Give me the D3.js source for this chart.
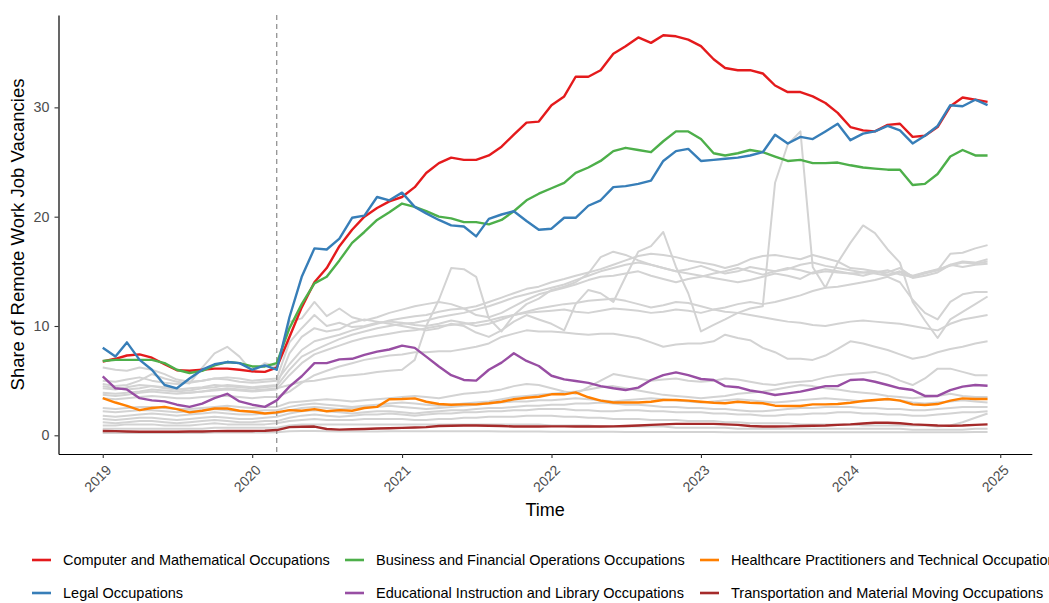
<!DOCTYPE html>
<html>
<head>
<meta charset="utf-8">
<script src="https://cdn.jsdelivr.net/npm/d3@7"></script>
<style>
  html, body { margin: 0; padding: 0; background: #ffffff; }
  svg { display: block; font-family: "Liberation Sans", Arial, sans-serif; }
</style>
</head>
<body>
<svg id="chart" width="1049" height="603"></svg>
<script>
// ---- categories (months) ----
const months = [
  "2019-01","2019-02","2019-03","2019-04","2019-05","2019-06","2019-07","2019-08","2019-09","2019-10","2019-11","2019-12",
  "2020-01","2020-02","2020-03","2020-04","2020-05","2020-06","2020-07","2020-08","2020-09","2020-10","2020-11","2020-12",
  "2021-01","2021-02","2021-03","2021-04","2021-05","2021-06","2021-07","2021-08","2021-09","2021-10","2021-11","2021-12",
  "2022-01","2022-02","2022-03","2022-04","2022-05","2022-06","2022-07","2022-08","2022-09","2022-10","2022-11","2022-12",
  "2023-01","2023-02","2023-03","2023-04","2023-05","2023-06","2023-07","2023-08","2023-09","2023-10","2023-11","2023-12",
  "2024-01","2024-02","2024-03","2024-04","2024-05","2024-06","2024-07","2024-08","2024-09","2024-10","2024-11","2024-12"
];
const xTickLabels = ["2019","2020","2021","2022","2023","2024","2025"];
const yTickValues = [0, 10, 20, 30];
const covidMonth = "2020-03";

// ---- highlighted series ----
const computerMath = [
  6.75,7.0,7.3,7.4,7.1,6.5,5.95,5.9,6.0,6.1,6.1,6.0,
  5.85,5.8,6.2,9.0,11.7,14.0,15.3,17.3,18.8,20.0,20.8,21.4,
  21.8,22.7,24.0,24.9,25.4,25.2,25.2,25.6,26.4,27.5,28.6,28.7,
  30.2,31.0,32.8,32.8,33.4,34.9,35.6,36.4,35.9,36.6,36.5,36.2,
  35.6,34.4,33.6,33.4,33.4,33.1,32.0,31.4,31.4,31.0,30.4,29.5,
  28.2,27.9,27.8,28.4,28.5,27.3,27.4,28.2,30.1,30.9,30.7,30.5
];
const businessFinancial = [
  6.8,6.9,6.9,6.9,6.9,6.6,6.0,5.7,5.9,6.4,6.7,6.6,
  6.3,6.3,6.6,9.8,12.0,13.9,14.5,16.0,17.6,18.6,19.7,20.4,
  21.2,20.9,20.5,20.0,19.85,19.5,19.5,19.3,19.7,20.5,21.5,22.1,
  22.6,23.1,24.0,24.5,25.1,26.0,26.3,26.1,25.9,26.9,27.8,27.8,
  27.1,25.8,25.6,25.8,26.1,25.9,25.5,25.1,25.2,24.9,24.9,24.95,
  24.7,24.5,24.4,24.3,24.3,22.9,23.0,23.9,25.5,26.1,25.6,25.6
];
const healthcarePractitioners = [
  3.4,3.0,2.7,2.3,2.5,2.6,2.4,2.1,2.25,2.45,2.45,2.25,
  2.15,2.0,2.1,2.3,2.25,2.4,2.2,2.3,2.25,2.5,2.6,3.3,
  3.32,3.38,3.07,2.86,2.8,2.83,2.83,2.93,3.07,3.3,3.44,3.53,
  3.75,3.75,3.93,3.48,3.17,3.0,3.0,3.0,3.07,3.23,3.23,3.17,
  3.07,2.98,2.93,3.07,2.98,2.93,2.71,2.68,2.68,2.83,2.83,2.86,
  2.98,3.14,3.23,3.32,3.17,2.83,2.77,2.86,3.17,3.38,3.32,3.32
];
const legal = [
  8.0,7.2,8.5,6.9,6.0,4.6,4.3,5.2,6.0,6.5,6.7,6.6,
  6.0,6.4,6.0,10.8,14.5,17.1,17.0,18.0,19.9,20.1,21.8,21.5,
  22.2,20.9,20.3,19.7,19.2,19.1,18.2,19.8,20.2,20.5,19.6,18.8,
  18.9,19.9,19.9,21.0,21.5,22.7,22.8,23.0,23.3,25.1,26.0,26.2,
  25.1,25.2,25.3,25.4,25.6,25.9,27.5,26.7,27.3,27.1,27.8,28.5,
  27.0,27.6,27.8,28.3,27.9,26.7,27.4,28.3,30.2,30.1,30.7,30.2
];
const educationLibrary = [
  5.4,4.3,4.2,3.4,3.2,3.1,2.8,2.6,2.9,3.4,3.8,3.1,
  2.8,2.6,3.2,4.45,5.4,6.6,6.6,6.95,7.0,7.35,7.65,7.85,
  8.2,8.0,7.2,6.3,5.5,5.06,5.0,6.0,6.65,7.5,6.8,6.34,
  5.45,5.12,4.97,4.8,4.5,4.3,4.14,4.36,5.06,5.5,5.76,5.5,
  5.15,5.06,4.5,4.4,4.1,3.93,3.69,3.84,4.0,4.24,4.5,4.5,
  5.06,5.12,4.9,4.6,4.3,4.14,3.6,3.6,4.14,4.45,4.6,4.54
];
const transportation = [
  0.4,0.38,0.35,0.33,0.33,0.33,0.33,0.35,0.35,0.38,0.4,0.4,
  0.4,0.42,0.48,0.75,0.78,0.8,0.58,0.52,0.55,0.58,0.62,0.65,
  0.68,0.72,0.75,0.85,0.88,0.9,0.9,0.88,0.85,0.8,0.8,0.8,
  0.82,0.82,0.8,0.8,0.8,0.82,0.85,0.9,0.95,1.0,1.05,1.05,
  1.05,1.05,1.0,0.95,0.85,0.8,0.8,0.82,0.85,0.88,0.9,0.95,
  1.0,1.08,1.15,1.15,1.1,1.0,0.95,0.9,0.88,0.9,0.95,1.0
];

// ---- other occupations (grey) ----
const artsMedia = [
  5.0,4.9,5.1,5.3,5.0,4.8,4.7,4.8,5.0,5.2,5.1,4.9,
  4.8,4.9,5.0,6.5,7.8,8.6,8.9,9.2,9.6,9.9,10.2,10.5,
  10.7,10.9,11.0,11.3,11.5,11.6,11.8,12.2,12.6,13.0,13.4,13.6,
  14.0,14.3,14.6,14.9,15.2,15.6,16.0,16.4,16.6,16.5,16.3,16.0,
  15.8,15.6,15.3,15.6,16.1,16.4,16.5,16.3,16.1,16.5,16.2,15.9,
  15.3,15.2,15.0,14.9,15.3,14.5,14.8,15.1,16.6,16.7,17.1,17.4
];
const management = [
  4.3,4.2,4.4,4.6,4.5,4.3,4.2,4.3,4.4,4.6,4.5,4.4,
  4.3,4.4,4.5,6.0,7.2,7.8,8.3,8.8,9.2,9.5,9.8,10.0,
  10.2,10.3,10.5,10.8,11.0,11.2,11.5,11.8,12.2,12.6,12.9,13.2,
  13.5,13.8,14.2,14.6,15.0,15.3,15.6,15.8,15.6,15.3,15.0,15.2,
  15.5,15.1,14.8,15.0,15.4,15.2,15.0,15.2,15.6,15.8,15.5,15.3,
  15.1,14.9,14.8,14.6,14.9,14.4,14.6,14.9,15.6,15.9,15.8,16.1
];
const architectureEngineering = [
  4.7,4.5,4.6,5.0,5.6,5.2,4.9,4.75,6.2,7.5,8.1,7.2,
  5.8,6.6,6.3,10.4,10.7,12.2,10.9,11.6,10.8,10.5,10.8,11.2,
  11.5,11.8,12.0,12.2,12.0,11.6,11.0,10.8,11.2,11.8,12.4,12.9,
  13.2,13.5,13.8,14.2,14.5,14.6,14.8,15.0,14.6,14.3,14.0,14.3,
  14.5,14.8,15.0,15.3,15.0,14.7,15.0,15.3,15.1,14.8,15.0,14.9,
  14.8,14.6,14.9,15.1,14.7,14.5,14.9,15.2,15.5,15.8,15.7,15.9
];
const lifePhysicalSocial = [
  3.9,3.8,3.9,4.0,4.2,4.1,4.0,3.9,4.0,4.2,4.3,4.2,
  4.1,4.2,4.3,4.6,4.9,5.0,5.2,5.4,5.5,5.6,5.8,5.9,
  6.0,6.9,10.0,12.4,15.3,15.2,14.5,10.7,9.5,11.0,12.0,12.5,
  13.3,13.6,14.0,14.8,16.3,16.8,16.5,16.0,15.6,15.3,15.0,14.8,
  14.6,14.4,14.2,14.0,14.2,14.5,14.8,14.6,14.3,14.9,15.2,15.0,
  14.8,14.9,15.0,14.7,15.0,14.6,14.9,15.1,15.6,15.4,15.6,15.7
];
const communitySocial = [
  4.5,4.3,4.2,4.3,4.5,4.4,4.2,4.1,4.3,4.4,4.6,4.5,
  4.4,4.5,4.6,7.5,9.0,9.8,9.5,9.7,10.3,10.6,10.4,10.2,
  10.0,9.8,9.6,9.8,10.2,10.0,9.4,9.0,9.6,10.4,11.0,10.6,
  10.2,9.6,12.0,13.3,13.0,12.2,14.5,16.8,17.3,18.6,15.4,13.0,
  9.5,10.1,10.6,11.2,11.6,11.8,23.1,26.6,27.8,15.4,13.5,15.8,
  17.6,19.2,18.5,17.0,15.8,12.2,10.5,8.9,10.6,11.3,12.0,12.7
];
const officeAdmin = [
  6.2,6.0,5.9,6.2,6.0,5.6,5.1,4.9,5.0,5.2,5.3,5.2,
  5.0,5.1,5.2,8.5,9.8,11.0,10.0,10.3,9.9,10.0,10.3,10.4,
  10.3,10.1,10.0,10.2,10.5,10.3,10.0,10.2,10.6,11.0,11.3,11.6,
  11.8,12.0,12.1,12.3,12.4,12.5,12.3,12.0,11.7,11.9,12.2,12.1,
  11.8,11.5,11.7,12.0,12.2,12.0,12.2,12.5,12.8,13.2,13.5,13.6,
  13.8,14.0,14.2,14.5,14.0,12.4,11.2,10.6,12.2,12.9,13.1,13.1
];
const salesRelated = [
  3.7,3.6,3.7,3.9,4.0,3.9,3.8,3.9,4.0,4.1,4.2,4.1,
  4.0,4.1,4.2,5.5,6.6,7.4,7.8,8.2,8.6,8.9,9.1,9.3,
  9.5,9.6,9.8,10.0,10.1,10.2,10.3,10.5,10.8,11.0,11.2,11.3,
  11.4,11.5,11.3,11.2,11.4,11.6,11.5,11.4,11.2,11.3,11.5,11.4,
  11.2,11.5,11.3,11.2,11.0,10.8,10.6,10.4,10.3,10.1,10.0,10.2,
  10.4,10.5,10.4,10.3,10.2,10.0,9.8,9.6,10.2,10.6,10.8,11.0
];
const communityHealth = [
  3.4,3.3,3.4,3.5,3.6,3.5,3.4,3.4,3.5,3.6,3.6,3.5,
  3.4,3.5,3.5,4.0,4.8,5.5,5.9,6.3,6.6,6.9,7.1,7.3,
  7.4,7.6,7.6,7.7,7.7,7.9,8.1,8.4,9.0,9.3,9.6,9.5,
  9.5,9.4,9.3,9.2,9.3,9.3,9.1,8.9,8.5,8.1,8.3,8.4,
  8.4,8.6,9.2,8.9,8.7,8.0,7.6,7.0,7.0,6.9,7.3,7.9,
  8.6,8.4,8.1,7.8,7.4,7.0,7.2,7.6,7.9,8.1,8.4,8.6
];
const protectiveService = [
  2.5,2.4,2.5,2.6,2.6,2.5,2.4,2.4,2.5,2.6,2.7,2.6,
  2.5,2.6,2.6,3.0,3.1,3.2,3.3,3.2,3.1,3.2,3.3,3.4,
  3.5,3.6,3.5,3.4,3.6,3.8,3.9,4.0,4.2,4.5,4.7,4.6,
  4.3,4.0,3.8,4.4,5.0,5.6,5.4,5.2,5.0,5.1,5.2,5.0,
  4.9,5.0,5.2,5.1,4.9,4.7,4.6,4.8,4.9,5.0,5.3,5.5,
  5.6,5.7,5.8,5.5,5.0,4.6,5.2,6.1,6.1,5.8,5.5,5.5
];
const healthcareSupport = [
  2.2,2.1,2.2,2.3,2.3,2.2,2.1,2.2,2.3,2.4,2.3,2.2,
  2.2,2.3,2.3,2.6,2.8,2.9,2.8,2.7,2.6,2.7,2.8,2.9,
  3.0,2.9,2.8,2.7,2.8,2.9,3.0,3.1,3.3,3.5,3.6,3.7,
  3.8,3.9,4.0,4.2,4.4,4.5,4.3,4.1,3.9,3.7,3.6,3.5,
  3.4,3.5,3.6,3.8,3.9,4.0,4.2,4.4,4.6,4.5,4.3,4.2,
  4.0,3.9,3.8,3.6,3.5,3.4,3.5,3.6,3.8,3.6,3.5,3.5
];
const personalCare = [
  1.8,1.7,1.8,1.9,2.0,1.9,1.8,1.9,2.0,2.1,2.0,1.9,
  1.9,2.0,2.0,2.3,2.5,2.6,2.5,2.4,2.5,2.6,2.6,2.7,
  2.6,2.5,2.4,2.5,2.6,2.7,2.8,2.9,3.0,3.1,3.1,3.2,
  3.2,3.3,3.4,3.3,3.2,3.1,3.2,3.3,3.4,3.3,3.2,3.1,
  3.0,3.1,3.2,3.3,3.2,3.1,3.0,3.1,3.2,3.3,3.4,3.3,
  3.2,3.1,3.2,3.3,3.2,3.0,2.9,3.0,3.1,3.2,3.1,3.0
];
const installationRepair = [
  1.5,1.4,1.5,1.6,1.6,1.5,1.4,1.5,1.6,1.7,1.6,1.5,
  1.5,1.6,1.7,2.0,2.2,2.3,2.2,2.1,2.0,2.1,2.2,2.2,
  2.1,2.0,2.1,2.2,2.3,2.3,2.4,2.5,2.5,2.6,2.7,2.7,
  2.8,2.8,2.9,2.9,3.0,2.9,2.8,2.8,2.7,2.6,2.6,2.5,
  2.5,2.4,2.4,2.3,2.2,2.2,2.3,2.4,2.5,2.5,2.6,2.6,
  2.6,2.5,2.5,2.4,2.4,2.3,2.3,2.4,2.5,2.6,2.6,2.6
];
const production = [
  1.2,1.1,1.2,1.3,1.3,1.2,1.1,1.2,1.3,1.4,1.3,1.2,
  1.2,1.3,1.3,1.6,1.8,1.9,1.8,1.7,1.8,1.9,1.9,2.0,
  1.9,1.8,1.9,2.0,2.0,2.1,2.1,2.2,2.2,2.3,2.3,2.4,
  2.4,2.4,2.3,2.3,2.2,2.2,2.3,2.3,2.2,2.2,2.1,2.1,
  2.1,2.0,2.0,1.9,1.9,1.8,1.8,1.9,1.9,2.0,2.0,2.1,
  2.1,2.0,2.0,1.9,1.9,1.8,1.8,1.9,2.0,2.1,2.1,2.2
];
const constructionExtraction = [
  0.9,0.9,1.0,1.0,1.0,0.9,0.9,0.9,1.0,1.1,1.0,1.0,
  1.0,1.0,1.1,1.3,1.4,1.5,1.4,1.4,1.4,1.5,1.5,1.5,
  1.5,1.4,1.4,1.5,1.5,1.6,1.6,1.7,1.7,1.7,1.8,1.8,
  1.8,1.7,1.7,1.6,1.6,1.5,1.5,1.5,1.4,1.4,1.4,1.3,
  1.3,1.3,1.2,1.2,1.1,1.1,1.1,1.1,1.0,1.0,1.0,1.0,
  1.0,0.9,0.9,0.9,0.9,0.9,0.9,0.8,0.9,1.2,1.6,2.0
];
const buildingGrounds = [
  0.6,0.6,0.6,0.6,0.6,0.6,0.6,0.6,0.6,0.7,0.7,0.7,
  0.7,0.7,0.7,0.9,1.0,1.0,1.0,1.0,1.0,1.0,1.0,1.0,
  1.0,1.0,1.0,1.0,1.0,1.0,1.0,1.0,1.0,1.0,1.0,1.0,
  0.9,0.9,0.9,0.9,0.8,0.8,0.8,0.8,0.8,0.8,0.7,0.7,
  0.7,0.7,0.7,0.6,0.6,0.6,0.6,0.6,0.6,0.6,0.6,0.6,
  0.6,0.6,0.6,0.6,0.6,0.5,0.5,0.5,0.5,0.5,0.6,0.6
];
const foodPreparation = [
  0.2,0.2,0.22,0.22,0.22,0.2,0.2,0.2,0.22,0.25,0.25,0.25,
  0.25,0.25,0.28,0.38,0.4,0.4,0.36,0.35,0.35,0.35,0.35,0.36,
  0.36,0.36,0.37,0.38,0.38,0.38,0.37,0.36,0.35,0.35,0.34,0.34,
  0.33,0.33,0.33,0.32,0.32,0.32,0.31,0.31,0.3,0.3,0.3,0.3,
  0.3,0.3,0.29,0.29,0.28,0.28,0.28,0.28,0.28,0.28,0.28,0.28,
  0.28,0.28,0.28,0.28,0.27,0.27,0.27,0.27,0.28,0.28,0.3,0.3
];

const highlighted = [
  { name: "Computer and Mathematical Occupations", color: "#e41a1c", values: computerMath },
  { name: "Business and Financial Operations Occupations", color: "#4daf4a", values: businessFinancial },
  { name: "Healthcare Practitioners and Technical Occupations", color: "#ff7f00", values: healthcarePractitioners },
  { name: "Legal Occupations", color: "#377eb8", values: legal },
  { name: "Educational Instruction and Library Occupations", color: "#984ea3", values: educationLibrary },
  { name: "Transportation and Material Moving Occupations", color: "#a52a2a", values: transportation }
];
const greySeries = [artsMedia, management, architectureEngineering, lifePhysicalSocial, communitySocial,
  officeAdmin, salesRelated, communityHealth, protectiveService, healthcareSupport, personalCare,
  installationRepair, production, constructionExtraction, buildingGrounds, foodPreparation];

// ---- layout ----
const svg = d3.select("#chart");
const panel = { left: 58.5, right: 1031.8, top: 15, bottom: 454 };
const parse = d3.timeParse("%Y-%m");
const dates = months.map(parse);
const t0 = +dates[0], t1 = +dates[dates.length - 1];
const pad = (t1 - t0) * 0.05;
const x = d3.scaleTime().domain([new Date(t0 - pad), new Date(t1 + pad)]).range([panel.left, panel.right]);
const y = d3.scaleLinear().domain([-1.71, 38.45]).range([panel.bottom, panel.top]);

const line = d3.line().x((d, i) => x(dates[i])).y(d => y(d));

// grey lines
svg.append("g").selectAll("path").data(greySeries).join("path")
  .attr("d", d => line(d))
  .attr("fill", "none").attr("stroke", "#d3d3d3").attr("stroke-width", 2)
  .attr("stroke-linejoin", "round");

// covid dashed line
const cx = x(parse(covidMonth));
svg.append("line").attr("x1", cx).attr("x2", cx).attr("y1", panel.top).attr("y2", panel.bottom)
  .attr("stroke", "#7f7f7f").attr("stroke-width", 1.1).attr("stroke-dasharray", "5,4");

// highlighted lines
svg.append("g").selectAll("path").data(highlighted).join("path")
  .attr("d", d => line(d.values))
  .attr("fill", "none").attr("stroke", d => d.color).attr("stroke-width", 2.4)
  .attr("stroke-linejoin", "round");

// axes
const xTicks = xTickLabels.map(s => new Date(+s, 0, 1));
const xAxis = d3.axisBottom(x).tickValues(xTicks).tickFormat(d3.timeFormat("%Y")).tickSize(4).tickSizeOuter(0);
const gx = svg.append("g").attr("transform", `translate(0,${panel.bottom})`).call(xAxis);
gx.select(".domain").attr("stroke", "#000").attr("stroke-width", 1.2);
gx.selectAll(".tick line").attr("stroke", "#333").attr("stroke-width", 1.1);
gx.selectAll(".tick text")
  .attr("font-size", 14).attr("fill", "#4d4d4d")
  .attr("text-anchor", "end")
  .attr("y", 0).attr("dy", 0)
  .attr("transform", "translate(9,17) rotate(-45)");

const yAxis = d3.axisLeft(y).tickValues(yTickValues).tickSize(4).tickSizeOuter(0).tickPadding(5);
const gy = svg.append("g").attr("transform", `translate(${panel.left},0)`).call(yAxis);
gy.select(".domain").attr("stroke", "#000").attr("stroke-width", 1.2);
gy.selectAll(".tick line").attr("stroke", "#333").attr("stroke-width", 1.1);
gy.selectAll(".tick text").attr("font-size", 14.3).attr("fill", "#4d4d4d");

// axis titles
svg.append("text").attr("x", (panel.left + panel.right) / 2).attr("y", 516)
  .attr("text-anchor", "middle").attr("font-size", 18).attr("fill", "#000").text("Time");
svg.append("text").attr("transform", `translate(24,${(panel.top + panel.bottom) / 2}) rotate(-90)`)
  .attr("text-anchor", "middle").attr("font-size", 18.5).attr("fill", "#000")
  .text("Share of Remote Work Job Vacancies");

// legend (2 rows, filled by column)
const legendCols = [32, 345, 700];
const legendRows = [560, 593];
const lg = svg.append("g");
highlighted.forEach((s, i) => {
  const order = [0, 3, 1, 4, 2, 5].indexOf(i);
  const col = Math.floor(order / 2), row = order % 2;
  const gx0 = legendCols[col], gy0 = legendRows[row];
  lg.append("line").attr("x1", gx0).attr("x2", gx0 + 19).attr("y1", gy0).attr("y2", gy0)
    .attr("stroke", s.color).attr("stroke-width", 2.6);
  lg.append("text").attr("x", gx0 + 31).attr("y", gy0).attr("dy", "0.35em")
    .attr("font-size", 14.5).attr("fill", "#000").text(s.name);
});
</script>
</body>
</html>
